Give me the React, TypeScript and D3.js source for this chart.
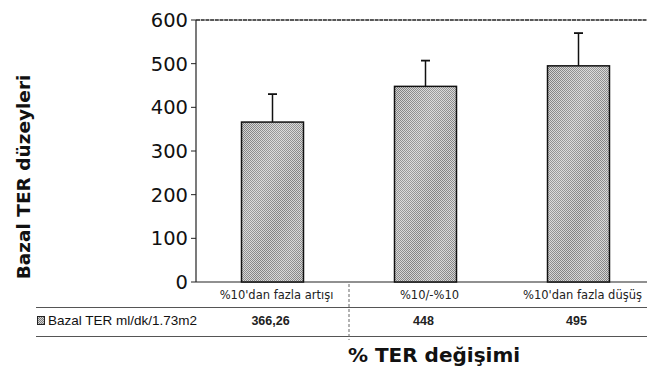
import React from "react";
import * as d3 from "d3";

const categories = ["%10'dan fazla artışı", "%10/-%10", "%10'dan fazla düşüş"];
const values = [366.26, 448, 495];
const errors = [64, 59, 75];
const valueLabels = ["366,26", "448", "495"];
const yTicks = [0, 100, 200, 300, 400, 500, 600];
const seriesName = "Bazal TER ml/dk/1.73m2";

const W = 647;
const H = 371;

export default function App() {
  const left = 196, right = 655, top = 20, bottom = 282;
  const x = d3.scaleBand<string>().domain(categories).range([left, right]).padding(0);
  const y = d3.scaleLinear().domain([0, 600]).range([bottom, top]);
  const barW = 62;
  const step = x.step();
  const font = "'Liberation Sans', Arial, sans-serif";
  const gfont = "'DejaVu Sans', 'Liberation Sans', sans-serif";

  return (
    <svg width={W} height={H} style={{ position: "absolute", left: 0, top: 0, background: "#fff" }}>
      <defs>
        <pattern id="stip" width="2" height="2" patternUnits="userSpaceOnUse">
          <rect width="2" height="2" fill="#d2d2d2" />
          <rect x="0" y="0" width="1" height="1" fill="#7c7c7c" />
          <rect x="1" y="1" width="1" height="1" fill="#7c7c7c" />
        </pattern>
        <linearGradient id="streak" x1="0" y1="0" x2="1" y2="1">
          <stop offset="0" stopColor="#fff" stopOpacity="0" />
          <stop offset="0.35" stopColor="#fff" stopOpacity="0.25" />
          <stop offset="0.6" stopColor="#fff" stopOpacity="0.05" />
          <stop offset="0.8" stopColor="#fff" stopOpacity="0.2" />
          <stop offset="1" stopColor="#fff" stopOpacity="0" />
        </linearGradient>
      </defs>

      {/* plot frame */}
      <line x1={left} x2={W} y1={top} y2={top} stroke="#222" strokeWidth={1.3} strokeDasharray="4 0.7" />
      <line x1={left} x2={W} y1={bottom} y2={bottom} stroke="#222" strokeWidth={1.2} />
      <line x1={left} x2={left} y1={top} y2={bottom} stroke="#222" strokeWidth={1.2} />

      {yTicks.map((t) => (
        <g key={t}>
          <line x1={left - 5} x2={left} y1={y(t)} y2={y(t)} stroke="#222" strokeWidth={1} />
          <text x={188} y={y(t) + 7} textAnchor="end" fontFamily={gfont} fontSize={19.5} fill="#111">
            {t}
          </text>
        </g>
      ))}

      {/* bars */}
      {categories.map((c, i) => {
        const bx = (x(c) as number) + (step - barW) / 2;
        const cx = bx + barW / 2;
        const yt = y(values[i]);
        const ye = y(values[i] + errors[i]);
        return (
          <g key={c}>
            <line x1={cx} x2={cx} y1={yt} y2={ye} stroke="#111" strokeWidth={1.5} />
            <line x1={cx - 4.5} x2={cx + 4.5} y1={ye} y2={ye} stroke="#111" strokeWidth={1.8} />
            <rect x={bx} y={yt} width={barW} height={bottom - yt} fill="url(#stip)" />
            <rect x={bx} y={yt} width={barW} height={bottom - yt} fill="url(#streak)" />
            <rect x={bx} y={yt} width={barW} height={bottom - yt} fill="none" stroke="#111" strokeWidth={1.5} />
          </g>
        );
      })}

      {/* data table */}
      {categories.map((c, i) => {
        const cx = (x(c) as number) + step / 2;
        return (
          <g key={"t" + c}>
            <text x={cx + 4} y={299} textAnchor="middle" fontFamily={gfont} fontSize={11.5} fill="#222">
              {c}
            </text>
            <text x={cx - 2} y={325} textAnchor="middle" fontFamily={font} fontSize={12.5} fontWeight="bold" fill="#222">
              {valueLabels[i]}
            </text>
          </g>
        );
      })}
      <line x1={36} x2={W} y1={307.5} y2={307.5} stroke="#555" strokeWidth={1} />
      <line x1={36} x2={W} y1={336.5} y2={336.5} stroke="#555" strokeWidth={1} />
      <line x1={left + step} x2={left + step} y1={284} y2={340} stroke="#666" strokeWidth={1} strokeDasharray="3 2" />

      <rect x={37.5} y={316.5} width={7} height={8} fill="url(#stip)" stroke="#222" strokeWidth={1} />
      <text x={48} y={325} fontFamily={font} fontSize={13.5} fill="#111">
        {seriesName}
      </text>

      {/* titles */}
      <text x={434} y={362} textAnchor="middle" fontFamily={gfont} fontSize={20} fontWeight="bold" fill="#111">
        % TER değişimi
      </text>
      <text
        transform={`translate(30, ${177}) rotate(-90)`}
        textAnchor="middle"
        fontFamily={gfont}
        fontSize={18.5}
        fontWeight="bold"
        fill="#111"
      >
        Bazal TER düzeyleri
      </text>
    </svg>
  );
}
